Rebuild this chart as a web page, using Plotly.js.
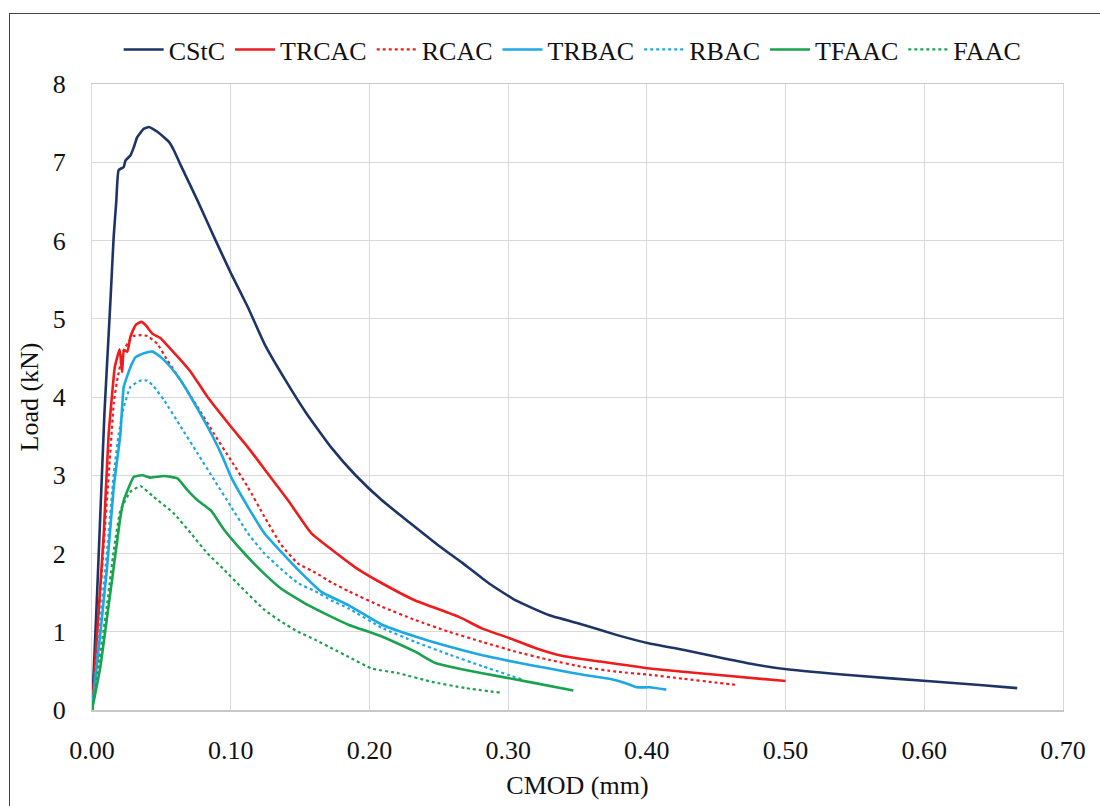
<!DOCTYPE html>
<html>
<head>
<meta charset="utf-8">
<script src="https://cdn.plot.ly/plotly-3.0.1.min.js"></script>
<style>
html,body{margin:0;padding:0;background:#fff;}
#chart{width:1100px;height:806px;}
#frame{position:absolute;left:9px;top:13px;width:1200px;height:900px;border-left:1.5px solid #444;border-top:1.5px solid #444;pointer-events:none;}
</style>
</head>
<body>
<div id="chart"></div>
<div id="frame"></div>
<script>
// CMOD (mm) and Load (kN) values
const cstcX = [0, 0.003, 0.006, 0.009, 0.012, 0.0135, 0.0156, 0.0175, 0.0192, 0.0229, 0.0241, 0.0278, 0.0301, 0.0326, 0.0374, 0.041, 0.0435, 0.0471, 0.0519, 0.0555, 0.0591, 0.064, 0.0761, 0.0881, 0.1002, 0.1123, 0.1243, 0.14, 0.155, 0.1727, 0.19, 0.209, 0.23, 0.25, 0.267, 0.286, 0.3055, 0.3297, 0.354, 0.378, 0.402, 0.426, 0.45, 0.475, 0.501, 0.55, 0.602, 0.64, 0.667];
const cstcY = [0, 1.2, 2.5, 3.8, 4.8, 5.3, 6.04, 6.5, 6.9, 6.94, 7.02, 7.09, 7.19, 7.32, 7.43, 7.45, 7.43, 7.39, 7.32, 7.26, 7.15, 6.96, 6.51, 6.04, 5.58, 5.15, 4.68, 4.2, 3.78, 3.35, 3.0, 2.68, 2.38, 2.1, 1.88, 1.62, 1.40, 1.21, 1.09, 0.96, 0.85, 0.77, 0.68, 0.59, 0.52, 0.44, 0.37, 0.32, 0.28];

const trcacX = [0, 0.003, 0.0055, 0.0085, 0.012, 0.0152, 0.0164, 0.0199, 0.0217, 0.023, 0.0255, 0.0277, 0.0314, 0.0355, 0.0386, 0.0435, 0.0495, 0.0543, 0.064, 0.0712, 0.0833, 0.1002, 0.1123, 0.1268, 0.1413, 0.158, 0.1727, 0.19, 0.209, 0.233, 0.2645, 0.2814, 0.3007, 0.32, 0.3394, 0.366, 0.402, 0.45, 0.5];
const trcacY = [0, 0.8, 1.45, 2.26, 3.53, 4.17, 4.38, 4.61, 4.32, 4.6, 4.58, 4.77, 4.92, 4.96, 4.92, 4.81, 4.75, 4.66, 4.47, 4.32, 4.0, 3.62, 3.36, 3.02, 2.68, 2.26, 2.05, 1.82, 1.62, 1.40, 1.19, 1.04, 0.92, 0.79, 0.69, 0.62, 0.53, 0.45, 0.37];

const rcacX = [0, 0.004, 0.008, 0.0133, 0.0157, 0.0181, 0.0229, 0.027, 0.030, 0.0355, 0.0399, 0.0471, 0.0543, 0.064, 0.0761, 0.088, 0.1002, 0.1123, 0.1243, 0.1364, 0.1486, 0.1606, 0.1727, 0.1848, 0.209, 0.233, 0.2572, 0.2814, 0.3055, 0.3297, 0.354, 0.378, 0.402, 0.426, 0.45, 0.465];
const rcacY = [0, 1.0, 2.0, 3.32, 3.92, 4.21, 4.6, 4.72, 4.78, 4.79, 4.78, 4.68, 4.47, 4.21, 3.87, 3.53, 3.19, 2.85, 2.47, 2.11, 1.87, 1.76, 1.63, 1.52, 1.32, 1.15, 1.0, 0.87, 0.745, 0.64, 0.55, 0.49, 0.45, 0.40, 0.35, 0.32];

const trbacX = [0, 0.006, 0.0109, 0.0157, 0.0181, 0.0205, 0.0229, 0.0277, 0.0314, 0.0374, 0.0435, 0.0495, 0.0567, 0.064, 0.0712, 0.0833, 0.093, 0.1002, 0.1123, 0.1243, 0.1364, 0.1486, 0.1654, 0.1848, 0.209, 0.233, 0.2572, 0.2814, 0.3055, 0.3297, 0.354, 0.373, 0.3853, 0.3925, 0.402, 0.414];
const trbacY = [0, 0.98, 1.83, 2.85, 3.19, 3.53, 4.13, 4.38, 4.51, 4.56, 4.58, 4.51, 4.38, 4.21, 4.0, 3.62, 3.28, 2.98, 2.6, 2.26, 2.02, 1.79, 1.51, 1.34, 1.09, 0.94, 0.81, 0.70, 0.61, 0.53, 0.45, 0.40, 0.34, 0.29, 0.29, 0.26];

const rbacX = [0, 0.005, 0.0109, 0.0157, 0.0193, 0.0229, 0.0277, 0.035, 0.0399, 0.0447, 0.0519, 0.064, 0.0761, 0.0881, 0.1002, 0.1123, 0.1243, 0.1364, 0.1486, 0.1606, 0.1727, 0.1848, 0.209, 0.233, 0.2572, 0.2814, 0.31];
const rbacY = [0, 0.95, 2.04, 3.02, 3.53, 3.87, 4.13, 4.21, 4.21, 4.13, 3.96, 3.62, 3.28, 2.94, 2.6, 2.26, 2.0, 1.80, 1.62, 1.52, 1.40, 1.30, 1.05, 0.87, 0.71, 0.56, 0.39];

const tfaacX = [0, 0.006, 0.0109, 0.0157, 0.0205, 0.0229, 0.0302, 0.0362, 0.0423, 0.0519, 0.0616, 0.0688, 0.0761, 0.0857, 0.0954, 0.1099, 0.1243, 0.1364, 0.1558, 0.1727, 0.1848, 0.209, 0.233, 0.2476, 0.2693, 0.2935, 0.3176, 0.347];
const tfaacY = [0, 0.55, 1.19, 1.83, 2.47, 2.68, 2.98, 3.0, 2.97, 2.99, 2.96, 2.81, 2.68, 2.55, 2.30, 2.0, 1.74, 1.55, 1.34, 1.19, 1.09, 0.94, 0.745, 0.60, 0.51, 0.43, 0.35, 0.25];

const faacX = [0, 0.005, 0.0105, 0.0157, 0.0205, 0.0277, 0.035, 0.0447, 0.0591, 0.0712, 0.0833, 0.0954, 0.1075, 0.1243, 0.1364, 0.1486, 0.1606, 0.1727, 0.1848, 0.2017, 0.221, 0.245, 0.2693, 0.295];
const faacY = [0, 0.6, 1.3, 2.04, 2.55, 2.79, 2.86, 2.72, 2.51, 2.26, 2.0, 1.79, 1.57, 1.28, 1.13, 1.0, 0.9, 0.79, 0.68, 0.53, 0.47, 0.36, 0.28, 0.22];

const seriesNames = ["CStC", "TRCAC", "RCAC", "TRBAC", "RBAC", "TFAAC", "FAAC"];
const xTickVals = [0, 0.1, 0.2, 0.3, 0.4, 0.5, 0.6, 0.7];
const xTickText = ["0.00", "0.10", "0.20", "0.30", "0.40", "0.50", "0.60", "0.70"];
const yTickVals = [0, 1, 2, 3, 4, 5, 6, 7, 8];

const navy = "#1F3466", red = "#EE1C1C", blue = "#1CA8E2", green = "#1AA24E";
const xs = [cstcX, trcacX, rcacX, trbacX, rbacX, tfaacX, faacX];
const ys = [cstcY, trcacY, rcacY, trbacY, rbacY, tfaacY, faacY];
const colors = [navy, red, red, blue, blue, green, green];
const dashes = ["solid", "solid", "dot", "solid", "dot", "solid", "dot"];

const traces = seriesNames.map((n, i) => ({
  x: xs[i], y: ys[i], name: n, type: "scatter", mode: "lines",
  line: {color: colors[i], width: dashes[i] === "dot" ? 2.2 : 2.6, dash: dashes[i], shape: "spline", smoothing: 0.4}
}));

const font = "Liberation Serif";
const layout = {
  width: 1100, height: 806,
  margin: {l: 92, r: 37, t: 84, b: 96},
  paper_bgcolor: "#fff", plot_bgcolor: "#fff",
  font: {family: font, size: 26, color: "#111"},
  showlegend: true,
  legend: {orientation: "h", x: 0.495, xanchor: "center", y: 1.055, yanchor: "middle",
           font: {family: font, size: 26, color: "#111"}, itemwidth: 40, tracegroupgap: 0},
  xaxis: {range: [0, 0.7], tickvals: xTickVals, ticktext: xTickText, showgrid: true, gridcolor: "#d9d9d9", gridwidth: 1,
          zeroline: false, showline: true, linecolor: "#c8c8c8", linewidth: 1.5, mirror: true, ticks: "", ticklabelstandoff: 16,
          tickfont: {family: font, size: 26, color: "#111"},
          title: {text: "CMOD (mm)", font: {family: font, size: 26, color: "#111"}, standoff: 12}},
  yaxis: {range: [0, 8], tickvals: yTickVals, showgrid: true, gridcolor: "#d9d9d9", gridwidth: 1,
          zeroline: false, showline: true, linecolor: "#d9d9d9", linewidth: 1, mirror: true, ticks: "", ticklabelstandoff: 20,
          tickfont: {family: font, size: 26, color: "#111"},
          title: {text: "Load (kN)", font: {family: font, size: 26, color: "#111"}, standoff: 6}}
};
Plotly.newPlot("chart", traces, layout, {displayModeBar: false, staticPlot: true});
</script>
</body>
</html>
